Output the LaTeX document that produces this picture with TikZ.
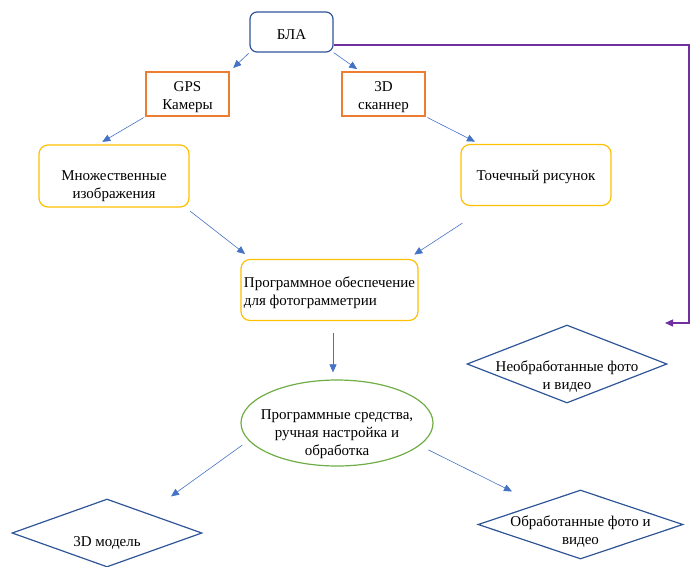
\documentclass[tikz,border=0pt]{standalone}
\usepackage{fontspec}
\setmainfont{Liberation Serif}
\usetikzlibrary{shapes.geometric,arrows.meta,positioning}
\usepackage{xcolor}
\definecolor{boxblue}{HTML}{2F5597}
\definecolor{boxorange}{HTML}{ED7D31}
\definecolor{boxyellow}{HTML}{FFC000}
\definecolor{boxgreen}{HTML}{70AD47}
\definecolor{linkblue}{HTML}{4472C4}
\definecolor{loopviolet}{HTML}{7030A0}

\begin{document}
\begin{tikzpicture}[x=1pt,y=-1pt]
      \tikzstyle{source} = [rectangle, rounded corners=7pt, draw=boxblue, line width=1.2pt, minimum width=83pt, minimum height=40pt, font=\fontsize{15}{18}\selectfont]
      \tikzstyle{sensor} = [rectangle, draw=boxorange, line width=1.2pt, minimum width=83pt, minimum height=44pt, align=center, inner sep=1pt, font=\fontsize{15}{18}\selectfont]
      \tikzstyle{result} = [rectangle, rounded corners=9pt, draw=boxyellow, line width=1.2pt, align=center, inner sep=2pt, font=\fontsize{15}{18}\selectfont]
      \tikzstyle{tool} = [ellipse, draw=boxgreen, line width=1.2pt, align=center, inner sep=-10pt, minimum width=192pt, minimum height=86pt, font=\fontsize{15}{18}\selectfont]
      \tikzstyle{output} = [diamond, aspect=2.7, draw=boxblue, line width=1.2pt, align=center, inner sep=-20pt, font=\fontsize{15}{18}\selectfont]
      \tikzstyle{link} = [-{Triangle[length=8pt,width=7pt]}, color=linkblue, line width=0.6pt]
      \tikzstyle{back} = [-{Triangle[length=8pt,width=7pt]}, color=loopviolet, line width=1.4pt]

      \useasboundingbox (0,0) rectangle (692,566);

      \node[source, text height=18.5pt, text depth=3.3pt] (bla) at (291.5,32) {БЛА};
      \node[sensor, text height=32pt, text depth=1pt] (gps) at (187.5,94) {GPS\\Камеры};
      \node[sensor, text height=32pt, text depth=1pt] (scan) at (383.5,94) {3D\\сканнер};
      \node[result, minimum width=150pt, minimum height=62pt, text height=46pt, text depth=1pt] (multi) at (114,176) {Множественные\\изображения};
      \node[result, minimum width=150pt, minimum height=61pt, text height=14.5pt, text depth=3.3pt] (point) at (536,175) {Точечный рисунок};
      \node[result, align=left, minimum width=177pt, minimum height=61pt, text height=32pt, text depth=1pt] (po) at (329.5,290) {Программное обеспечение\\для фотограмметрии};
      \node[tool, text height=66pt, text depth=1pt] (ell) at (337,423) {Программные средства,\\ручная настройка и\\обработка};
      \node[output, minimum width=200pt, minimum height=78pt, text height=51pt, text depth=1pt] (raw) at (567,364) {Необработанные фото\\и видео};
      \node[output, minimum width=190pt, minimum height=68pt, text height=30.3pt, text depth=3.3pt] (model) at (107,533) {3D модель};
      \node[output, minimum width=205pt, minimum height=69pt, text height=40pt, text depth=1pt] (proc) at (580.5,524.5) {Обработанные фото и\\видео};

      \coordinate (corner) at (689,323);
      \coordinate (rawin) at (665,323);

      \draw[link, shorten <=1pt, shorten >=5pt] (bla.south west) -- (gps.north east);
      \draw[link, shorten >=4pt] (bla.south east) -- ([xshift=19pt]scan.north west);
      \draw[link, shorten <=2pt, shorten >=5pt] (gps.south west) -- ([xshift=-16pt]multi.north);
      \draw[link, shorten <=2pt, shorten >=5pt] (scan.south east) -- ([xshift=19pt]point.north west);
      \draw[link, shorten <=6pt, shorten >=8pt] ([xshift=-4pt]multi.south east) -- ([xshift=11pt]po.north west);
      \draw[link, shorten >=8pt] ([xshift=2pt,yshift=-17pt]point.south west) -- ([xshift=-11pt]po.north east);
      \draw[link, shorten <=12pt] ([xshift=3.5pt]po.south) -- ([xshift=-4pt,yshift=7pt]ell.north);
      \draw[link] ([xshift=2pt,yshift=-22pt]ell.west) -- ([xshift=64pt,yshift=2pt]model.north);
      \draw[link] ([xshift=-5pt,yshift=-27pt]ell.east) -- ([xshift=-68.5pt,yshift=-2pt]proc.north);
      \draw[back] ([yshift=-13pt]bla.east) -| (corner) -- (rawin);
    \end{tikzpicture}
\end{document}
